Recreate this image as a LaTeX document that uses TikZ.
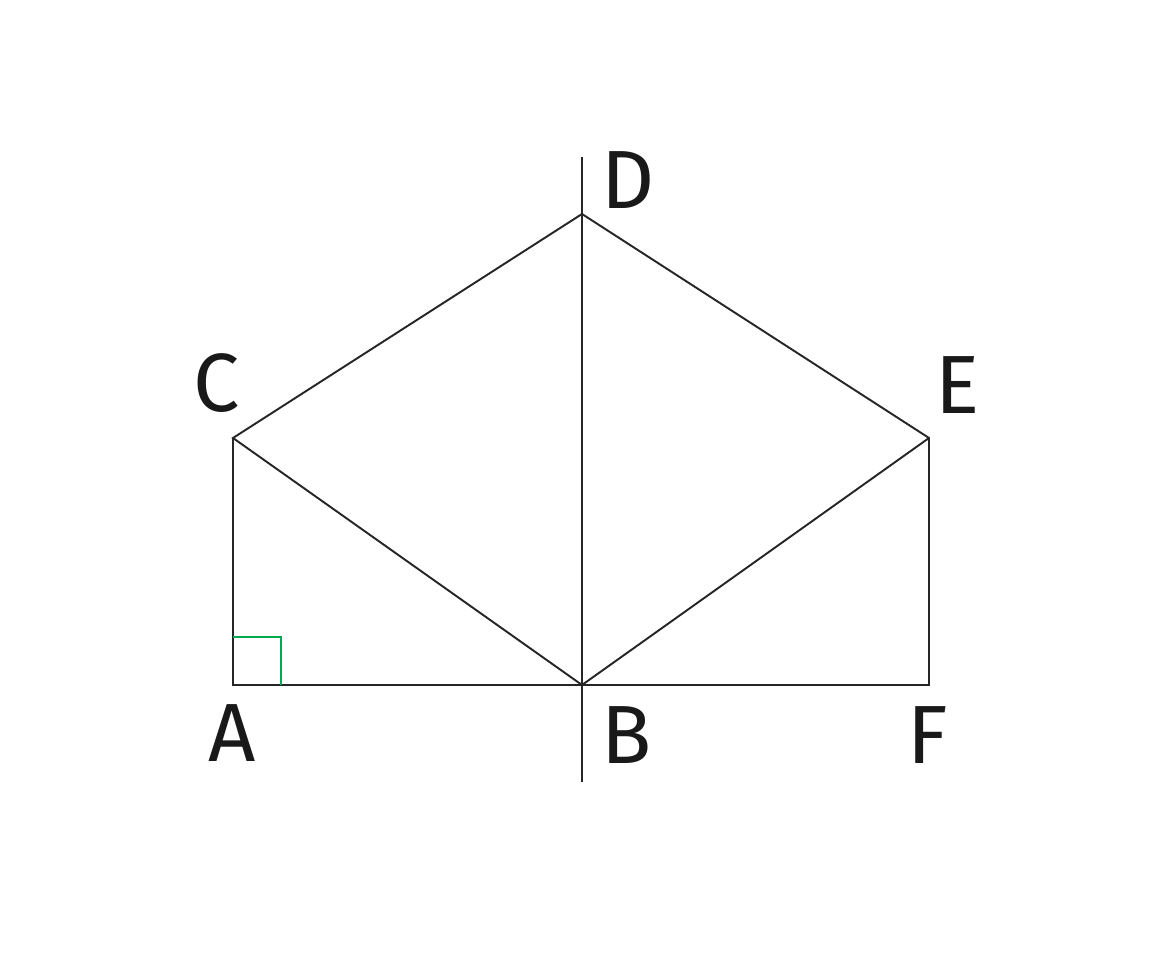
\documentclass[tikz,border=0pt]{standalone}
\usepackage{fontspec}
\setmainfont{Fira Sans}
\usetikzlibrary{calc, positioning}
\tikzstyle{vtx}=[inner sep=0pt, shape=coordinate]
\tikzstyle{lbl}=[inner sep=0pt, font=\fontsize{47}{56}\selectfont, text=black!90]
\tikzstyle{edge}=[line width=1.1pt, black!85]
\definecolor{rightgreen}{RGB}{0,170,80}

\begin{document}
\begin{tikzpicture}
\useasboundingbox (0,0) rectangle (23.06,19.2);
% the points
\node[vtx] (A) at (4.66, 5.50) {};
\node[vtx] (B) at (11.64, 5.50) {};
\node[vtx] (C) at (4.66, 10.44) {};
\node[vtx] (D) at (11.64, 14.92) {};
\node[vtx] (E) at (18.58, 10.44) {};
\node[vtx] (F) at (18.58, 5.50) {};
% the ends of the axis
\coordinate (T) at (11.64, 16.06);
\coordinate (S) at (11.64, 3.56);
% the labels
\node[lbl] (lA) at (4.64, 4.54) {A};
\node[lbl] (lB) at (12.54, 4.50) {B};
\node[lbl] (lC) at (4.34, 11.54) {C};
\node[lbl] (lD) at (12.56, 15.60) {D};
\node[lbl] (lE) at (19.16, 11.50) {E};
\node[lbl] (lF) at (18.56, 4.50) {F};
% the edges
\draw[edge] (C) -- (A) -- (B) -- (F) -- (E) -- (D) -- (C) -- (B) -- (E);
\draw[edge] (T) -- (S);
% the right angle
\draw[line width=0.8pt, rightgreen] ($(A)+(0,0.96)$) -- ($(A)+(0.96,0.96)$) -- ($(A)+(0.96,0)$);
\end{tikzpicture}
\end{document}
